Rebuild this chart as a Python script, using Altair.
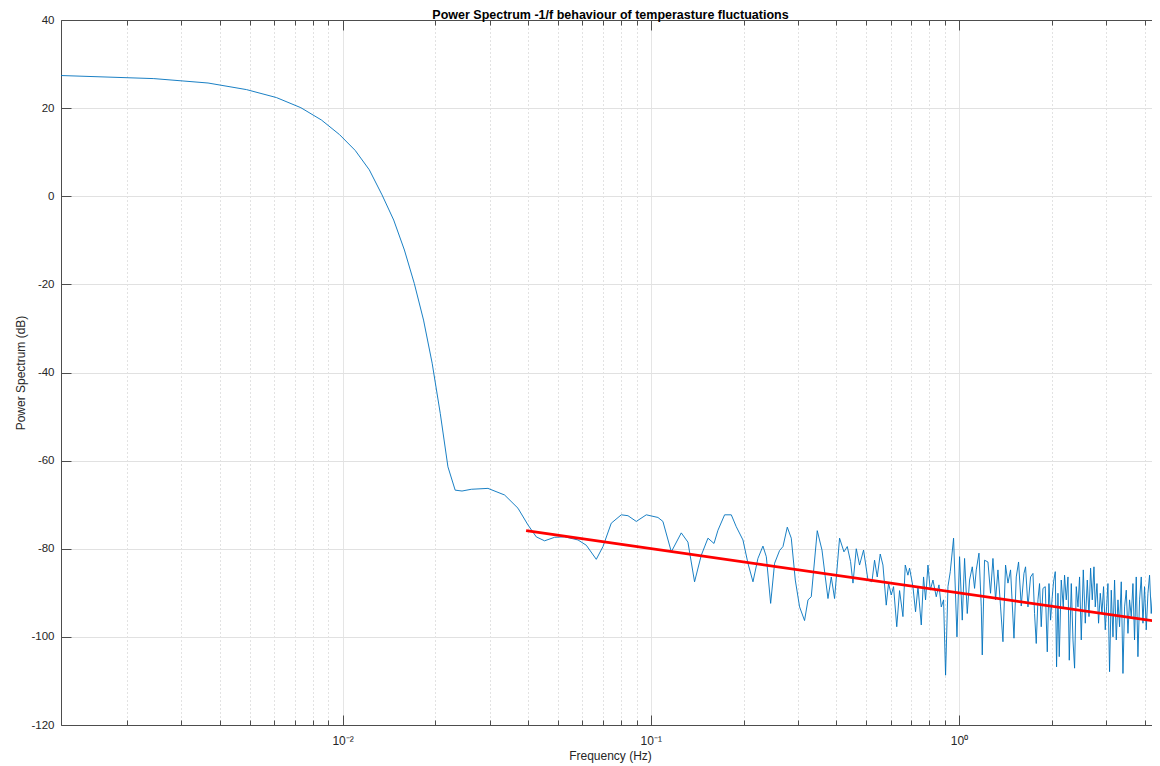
import altair as alt
import pandas as pd

# ---------------- data ----------------
freq = [
    0.00122, 0.00244, 0.00366, 0.00488, 0.00610, 0.00732, 0.00854, 0.00977, 0.01099, 0.01221,
    0.01343, 0.01465, 0.01587, 0.01709, 0.01831, 0.01953, 0.02075, 0.02197, 0.02319, 0.02441,
    0.02616, 0.02963, 0.03355, 0.03708, 0.03996, 0.04251, 0.04523, 0.04875, 0.05252, 0.05805,
    0.06176, 0.06656, 0.06997, 0.07444, 0.08023, 0.08433, 0.08974, 0.09671, 0.1055, 0.1095,
    0.1166, 0.1256, 0.1320, 0.1387, 0.1458, 0.1533, 0.1604, 0.1652, 0.1736, 0.1825,
    0.1894, 0.1991, 0.2067, 0.2146, 0.2227, 0.2312, 0.2371, 0.2449, 0.2522, 0.2618,
    0.2685, 0.2773, 0.2857, 0.2944, 0.3040, 0.3155, 0.3237, 0.3317, 0.3469, 0.3594,
    0.3683, 0.3758, 0.3852, 0.3948, 0.4098, 0.4235, 0.4341, 0.4449, 0.4530, 0.4643,
    0.4758, 0.4903, 0.5066, 0.5219, 0.5323, 0.5430, 0.5553, 0.5667, 0.5808, 0.5909,
    0.6029, 0.6134, 0.6283, 0.6416, 0.6580, 0.6695, 0.6830, 0.6913, 0.7090, 0.7230,
    0.7362, 0.7546, 0.7675, 0.7791, 0.7932, 0.8070, 0.8234, 0.8439, 0.8612, 0.8762,
    0.8913, 0.9048, 0.9211, 0.9371, 0.9605, 0.9851, 1.0045, 1.0249, 1.0428, 1.0639,
    1.0824, 1.1045, 1.1236, 1.1380, 1.1612, 1.1814, 1.1901, 1.2107, 1.2417, 1.2661,
    1.2890, 1.3145, 1.3380, 1.3646, 1.3892, 1.4164, 1.4421, 1.4703, 1.5083, 1.5342,
    1.5609, 1.5925, 1.6250, 1.6446, 1.6744, 1.7071, 1.7381, 1.7590, 1.7814, 1.8041,
    1.8259, 1.8492, 1.8728, 1.9055, 1.9343, 1.9590, 1.9826, 2.0078, 2.0273, 2.0535,
    2.0735, 2.0951, 2.1155, 2.1474, 2.1798, 2.2010, 2.2291, 2.2580, 2.2800, 2.3144,
    2.3439, 2.3722, 2.4024, 2.4330, 2.4623, 2.4937, 2.5315, 2.5696, 2.6084, 2.6417,
    2.6735, 2.7075, 2.7416, 2.7683, 2.8041, 2.8373, 2.8741, 2.9107, 2.9458, 2.9833,
    3.0124, 3.0438, 3.0805, 3.1203, 3.1601, 3.1982, 3.2390, 3.2803, 3.3198, 3.3621,
    3.4050, 3.4460, 3.4900, 3.5345, 3.5771, 3.6226, 3.6688, 3.7125, 3.7600, 3.8078,
    3.8548, 3.9039, 3.9537, 4.0013, 4.0523, 4.1039, 4.1533, 4.2063, 4.2608, 4.3116,
    4.3676, 4.4235, 4.4767, 4.5337,
]
power = [
    27.4, 26.7, 25.7, 24.2, 22.4, 20.1, 17.3, 14.0, 10.4, 6.0,
    0.3, -5.4, -12.2, -19.8, -28.1, -37.9, -49.3, -61.4, -66.7, -66.9,
    -66.5, -66.3, -67.8, -70.8, -74.6, -77.3, -78.2, -77.4, -77.3, -78.0,
    -79.2, -82.4, -79.5, -74.2, -72.3, -72.5, -73.8, -72.3, -72.9, -73.8,
    -80.7, -76.4, -78.5, -87.5, -81.5, -77.6, -78.8, -75.8, -72.3, -72.3,
    -75.0, -78.0, -83.3, -87.5, -82.2, -79.4, -81.8, -92.4, -83.3, -80.4,
    -79.5, -75.1, -77.6, -87.1, -93.2, -96.3, -91.6, -90.9, -75.9, -80.3,
    -86.4, -91.3, -86.4, -91.3, -77.6, -80.7, -79.5, -82.9, -87.8, -80.0,
    -83.7, -80.3, -87.1, -87.5, -82.6, -86.4, -81.2, -83.7, -92.8, -87.8,
    -90.5, -88.6, -97.7, -89.5, -95.4, -83.7, -86.0, -84.4, -88.6, -94.3,
    -88.6, -97.3, -86.4, -91.6, -83.7, -89.4, -87.1, -90.9, -88.2, -93.2,
    -91.6, -108.7, -88.6, -85.2, -77.6, -100.0, -81.8, -96.2, -82.2, -94.7,
    -87.1, -84.1, -89.0, -84.8, -81.0, -93.2, -104.1, -82.6, -83.0, -90.1,
    -82.2, -91.6, -84.8, -93.2, -101.1, -83.7, -87.8, -84.8, -100.3, -86.4,
    -83.0, -93.0, -85.6, -84.1, -93.2, -86.4, -85.6, -94.7, -101.5, -91.6,
    -87.9, -97.7, -89.0, -88.6, -103.4, -87.9, -96.2, -90.9, -87.5, -85.2,
    -106.8, -90.1, -104.5, -87.1, -93.2, -86.0, -91.6, -86.4, -105.3, -87.9,
    -100.7, -107.1, -88.6, -93.2, -86.4, -100.7, -84.8, -96.9, -87.1, -95.4,
    -84.4, -91.6, -84.1, -93.2, -87.9, -96.9, -90.1, -94.7, -88.6, -98.4,
    -93.2, -87.9, -107.9, -89.4, -100.0, -87.1, -100.7, -91.6, -97.7, -87.5,
    -108.3, -93.2, -89.4, -99.2, -91.6, -95.4, -87.9, -100.7, -86.4, -104.5,
    -91.6, -86.4, -96.9, -88.6, -98.4, -90.1, -86.0, -94.7, -89.4, -100.7,
    -91.6, -87.9, -96.9, -90.1,
]
fit_freq = [0.0394, 4.53]
fit_power = [-75.9, -96.6]

major_ticks = [0.01, 0.1, 1]
minor_ticks = [0.002, 0.003, 0.004, 0.005, 0.006, 0.007, 0.008, 0.009,
               0.02, 0.03, 0.04, 0.05, 0.06, 0.07, 0.08, 0.09,
               0.2, 0.3, 0.4, 0.5, 0.6, 0.7, 0.8, 0.9,
               2, 3, 4]
all_ticks = sorted(major_ticks + minor_ticks)
y_ticks = [-120, -100, -80, -60, -40, -20, 0, 20, 40]

assert len(freq) == len(power)
spec_df = pd.DataFrame({"f": freq, "p": power})
fit_df = pd.DataFrame({"f": fit_freq, "p": fit_power})

# ---------------- styling ----------------
FONT = "Liberation Sans"
AX = "#4d4d4d"
TXT = "#262626"
W, H = 1091, 705

xscale = alt.Scale(type="log", domain=[0.00122, 4.23], nice=False)
yscale = alt.Scale(domain=[-120, 40], nice=False, zero=False)

is_major = "abs(log(datum.value)/LN10 - round(log(datum.value)/LN10)) < 0.001"
label_expr = ("abs(datum.value-0.01)<1e-9 ? '10⁻²' : "
              "abs(datum.value-0.1)<1e-9 ? '10⁻¹' : "
              "abs(datum.value-1)<1e-9 ? '10⁰' : ''")

y_axis = alt.Axis(
    values=y_ticks, labelExpr="'' + datum.value",
    grid=True, gridColor="#e1e1e1", gridWidth=1,
    domainColor=AX, domainWidth=1, tickColor=AX, tickWidth=1,
    tickSize={"expr": "-10"}, labelPadding=17,
    labelFont=FONT, labelFontSize=11.5, labelColor=TXT,
    title="Power Spectrum (dB)", titleFont=FONT, titleFontSize=12,
    titleFontWeight="normal", titleColor=TXT, titleAngle=270,
    titleX=-41, titleY=352.5, titleAlign="center", titleBaseline="middle",
)

ax_bottom = alt.Axis(
    orient="bottom", values=all_ticks, labelExpr=label_expr,
    labelOverlap=False, labelFlush=False,
    grid=True,
    gridColor={"condition": {"test": is_major, "value": "#dcdcdc"}, "value": "#c4c4c4"},
    gridDash={"condition": {"test": is_major, "value": [1, 0]}, "value": [1, 3]},
    gridWidth=1,
    domainColor=AX, domainWidth=1, tickColor=AX, tickWidth=1,
    tickSize={"expr": "-5"}, labelPadding=15,
    labelFont=FONT, labelFontSize=12, labelColor=TXT,
    title="Frequency (Hz)", titleFont=FONT, titleFontSize=12,
    titleFontWeight="normal", titleColor=TXT,
    titleX=549, titleY=30, titleAlign="center", titleBaseline="middle",
)
ax_bottom_major = alt.Axis(
    orient="bottom", values=major_ticks, labels=False, grid=False, domain=False,
    tickColor=AX, tickWidth=1, tickSize={"expr": "-10"}, title=None,
)
ax_top_all = alt.Axis(
    orient="top", values=all_ticks, labels=False, grid=False, domain=True,
    domainColor=AX, domainWidth=1, tickColor=AX, tickWidth=1,
    tickSize={"expr": "-5"}, title=None,
)
ax_top_major = alt.Axis(
    orient="top", values=major_ticks, labels=False, grid=False, domain=False,
    tickColor=AX, tickWidth=1, tickSize={"expr": "-10"}, title=None,
)

yenc = alt.Y("p:Q", scale=yscale, axis=y_axis)

spectrum = alt.Chart(spec_df).mark_line(
    color="#0072BD", strokeWidth=0.9, clip=True
).encode(x=alt.X("f:Q", scale=xscale, axis=ax_bottom), y=yenc, order="f:Q")

fit = alt.Chart(fit_df).mark_line(
    color="#FF0000", strokeWidth=2.8, clip=True
).encode(x=alt.X("f:Q", scale=xscale, axis=ax_bottom_major), y=yenc)

top1 = alt.Chart(fit_df).mark_line(opacity=0, clip=True).encode(
    x=alt.X("f:Q", scale=xscale, axis=ax_top_all), y=yenc)
top2 = alt.Chart(fit_df).mark_line(opacity=0, clip=True).encode(
    x=alt.X("f:Q", scale=xscale, axis=ax_top_major), y=yenc)

chart = alt.layer(spectrum, fit, top1, top2).resolve_axis(
    x="independent"
).properties(
    width=W, height=H,
    title=alt.TitleParams(
        text="Power Spectrum -1/f behaviour of temperasture fluctuations",
        font=FONT, fontSize=12.5, fontWeight="bold", color="#000000",
        anchor="middle", offset=4, dx=4, dy=11.3,
    ),
    padding={"left": 53, "top": 12, "right": 0, "bottom": 40},
    autosize=alt.AutoSizeParams(type="none"),
).configure_view(stroke=None).configure(background="white")

chart.save("out.html", embed_options={"renderer": "svg", "actions": False})
